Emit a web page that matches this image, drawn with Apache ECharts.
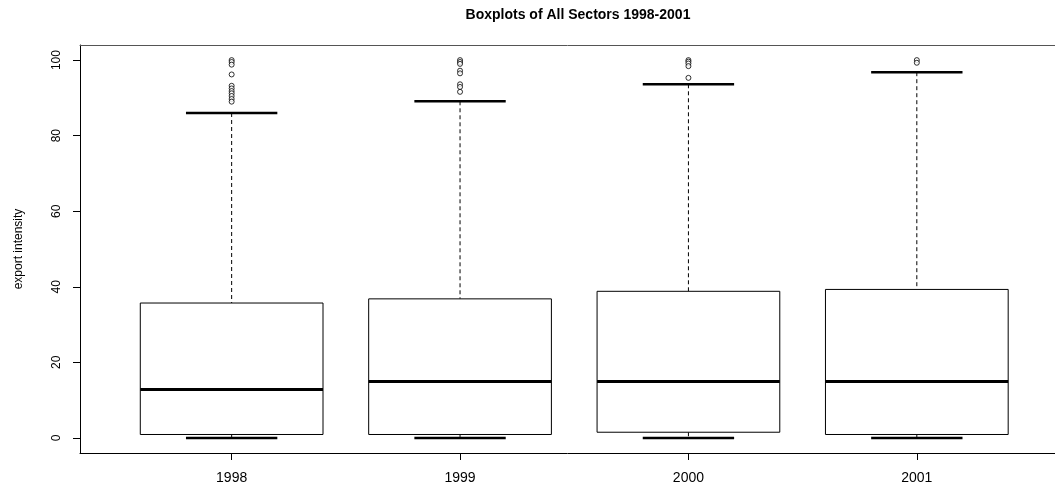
<!DOCTYPE html>
<html>
<head>
<meta charset="utf-8">
<script src="https://cdn.jsdelivr.net/npm/echarts@6/dist/echarts.min.js"></script>
<style>
html, body { margin: 0; padding: 0; background: #fff; }
#box { width: 1055px; height: 488px; }
</style>
</head>
<body>
<div id="box"></div>
<script>
// values
const years = ['1998', '1999', '2000', '2001'];
const whiskerLow = [0, 0, 0, 0];
const q1 = [0.9, 0.9, 1.5, 0.9];
const medians = [12.8, 14.9, 14.9, 14.9];
const q3 = [35.7, 36.8, 38.8, 39.3];
const whiskerHigh = [86.0, 89.1, 93.6, 96.8];
const outliers1998 = [100, 99.5, 98.8, 96.2, 93.2, 92.5, 91.8, 91.2, 90.5, 89.7, 89.0];
const outliers1999 = [100, 99.5, 99.0, 97.2, 96.5, 93.6, 92.9, 91.6];
const outliers2000 = [100, 99.6, 99.1, 98.4, 95.3];
const outliers2001 = [100, 99.3];
const yTicks = [0, 20, 40, 60, 80, 100];

const outlierLists = [outliers1998, outliers1999, outliers2000, outliers2001];
const boxRows = years.map((y, i) => [i + 1, whiskerLow[i], q1[i], medians[i], q3[i], whiskerHigh[i]]);
const outlierPoints = [];
outlierLists.forEach((list, i) => {
  list.forEach(v => outlierPoints.push([i + 1, v]));
});

function renderBox(params, api) {
  const x = api.value(0);
  const unit = api.size([1, 0])[0];
  const half = unit * 0.4;
  const cap = unit * 0.2;
  const pLow = api.coord([x, api.value(1)]);
  const pQ1 = api.coord([x, api.value(2)]);
  const pMed = api.coord([x, api.value(3)]);
  const pQ3 = api.coord([x, api.value(4)]);
  const pHigh = api.coord([x, api.value(5)]);
  const cx = pMed[0];
  return {
    type: 'group',
    children: [
      { type: 'line', shape: { x1: cx, y1: pHigh[1], x2: cx, y2: pQ3[1] },
        style: { stroke: '#000', lineWidth: 1, lineDash: [4, 3] } },
      { type: 'line', shape: { x1: cx, y1: pQ1[1], x2: cx, y2: pLow[1] },
        style: { stroke: '#000', lineWidth: 1, lineDash: [4, 3] } },
      { type: 'rect', shape: { x: cx - half, y: pQ3[1], width: half * 2, height: pQ1[1] - pQ3[1] },
        style: { stroke: '#000', lineWidth: 1, fill: '#fff' } },
      { type: 'line', shape: { x1: cx - half, y1: pMed[1], x2: cx + half, y2: pMed[1] },
        style: { stroke: '#000', lineWidth: 3 } },
      { type: 'line', shape: { x1: cx - cap, y1: pHigh[1], x2: cx + cap, y2: pHigh[1] },
        style: { stroke: '#000', lineWidth: 2.5 } },
      { type: 'line', shape: { x1: cx - cap, y1: pLow[1], x2: cx + cap, y2: pLow[1] },
        style: { stroke: '#000', lineWidth: 2.5 } }
    ]
  };
}

const chart = echarts.init(document.getElementById('box'));
chart.setOption({
  animation: false,
  backgroundColor: '#fff',
  textStyle: { fontFamily: 'Liberation Sans, Arial, sans-serif', color: '#000' },
  title: {
    text: 'Boxplots of All Sectors 1998-2001',
    left: 573,
    textAlign: 'center',
    top: 3,
    textStyle: { fontSize: 14, fontWeight: 'bold', color: '#000', fontFamily: 'Liberation Sans, Arial, sans-serif' }
  },
  grid: {
    left: 80,
    top: 45,
    right: 0,
    bottom: 35
  },
  xAxis: [
    {
      type: 'value',
      min: 0.336,
      max: 4.605,
      splitLine: { show: false },
      axisLine: { show: true, onZero: false, lineStyle: { color: '#000', width: 1 } },
      axisTick: { show: true, length: 7, customValues: [1, 2, 3, 4], lineStyle: { color: '#000' } },
      axisLabel: {
        customValues: [1, 2, 3, 4],
        formatter: v => years[Math.round(v) - 1],
        fontSize: 14,
        color: '#000',
        margin: 18
      }
    },
    {
      type: 'value',
      position: 'top',
      min: 0.336,
      max: 4.605,
      splitLine: { show: false },
      axisLine: { show: true, onZero: false, lineStyle: { color: '#555', width: 1 } },
      axisTick: { show: false },
      axisLabel: { show: false }
    }
  ],
  yAxis: {
    type: 'value',
    min: -4,
    max: 104,
    name: 'export intensity',
    nameLocation: 'middle',
    nameGap: 55,
    nameTextStyle: { fontSize: 12, color: '#000' },
    splitLine: { show: false },
    axisLine: { show: true, onZero: false, lineStyle: { color: '#000', width: 1 } },
    axisTick: { show: true, length: 7, customValues: yTicks, lineStyle: { color: '#000' } },
    axisLabel: {
      customValues: yTicks,
      rotate: 90,
      fontSize: 12,
      color: '#000',
      margin: 17
    }
  },
  series: [
    {
      type: 'custom',
      renderItem: renderBox,
      encode: { x: 0, y: [1, 2, 3, 4, 5] },
      data: boxRows,
      z: 2
    },
    {
      type: 'scatter',
      symbol: 'circle',
      symbolSize: 5,
      itemStyle: { color: '#fff', borderColor: '#000', borderWidth: 1 },
      data: outlierPoints,
      z: 3
    }
  ]
});
</script>
</body>
</html>
